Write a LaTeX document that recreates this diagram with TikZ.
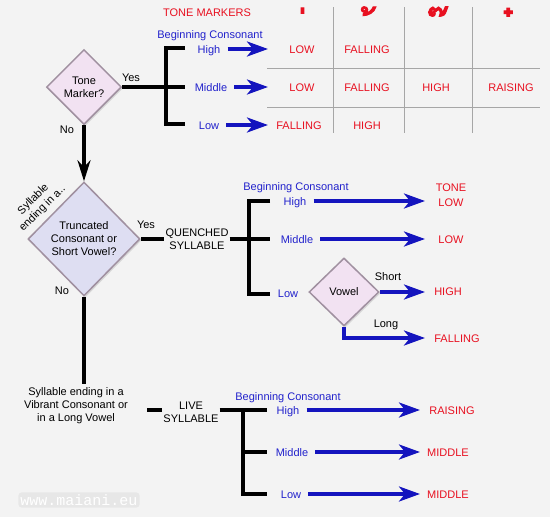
\documentclass[tikz,border=0pt]{standalone}
\usepackage{fontspec}
\setmainfont{Liberation Sans}
\setmonofont{Liberation Mono}
\newfontfamily\thaifont[Script=Thai, FakeBold=2.5]{Loma}
\usetikzlibrary{arrows.meta,shapes.geometric,shadows}

\definecolor{paper}{RGB}{243,243,243}
\definecolor{consblue}{RGB}{34,34,204}
\definecolor{arrowblue}{RGB}{20,20,190}
\definecolor{tonered}{RGB}{232,16,32}
\definecolor{pinkfill}{RGB}{242,226,242}
\definecolor{lilacfill}{RGB}{222,222,242}
\definecolor{rimgrey}{RGB}{160,144,160}

\tikzset{
  every node/.style={font=\fontsize{11}{13}\selectfont},
  cons/.style={text=consblue, text height=8pt, text depth=0pt, inner sep=2pt},
  tone/.style={text=tonered, text height=8pt, text depth=0pt},
  plainlbl/.style={text height=8pt, text depth=0pt, inner sep=1pt},
  markhead/.style={text=tonered, anchor=base, inner sep=0pt, font=\thaifont\fontsize{40}{40}\selectfont},
  question/.style={diamond, draw=rimgrey, line width=1.5pt, inner sep=0pt, align=center,
    drop shadow={shadow xshift=1.5pt, shadow yshift=-1.5pt, opacity=0.25}},
  bar/.style={line width=3.5pt},
  tablerule/.style={draw=gray!70, line width=0.8pt},
  tonearrow/.style={draw=arrowblue, line width=3.5pt, -{Stealth[length=21pt,width=15pt,inset=6pt]}},
  flow/.style={line width=3.5pt, -{Stealth[length=21pt,width=13pt,inset=7pt]}}
}

\begin{document}
\begin{tikzpicture}[x=1pt,y=-1pt]
\fill[paper] (0,0) rectangle (550,517);
\useasboundingbox (0,0) rectangle (550,517);

% tone marker table
\node[tone] (title) at (207,12) {TONE MARKERS};
\node[markhead] (mk1) at (302,49) {^^^^00a0^^^^0e48};
\node[markhead] (mk2) at (369,49) {^^^^00a0^^^^0e49};
\node[markhead] (mk3) at (440,49) {^^^^00a0^^^^0e4a};
\node[markhead] (mk4) at (510,49) {^^^^00a0^^^^0e4b};
\draw[tablerule] (333,7) -- (333,133);
\draw[tablerule] (404,7) -- (404,133);
\draw[tablerule] (472,7) -- (472,133);
\draw[tablerule] (267,68) -- (540,68);
\draw[tablerule] (267,107) -- (540,107);
\node[tone] (t11) at (302,49) {LOW};
\node[tone] (t12) at (367,49) {FALLING};
\node[tone] (t21) at (302,87) {LOW};
\node[tone] (t22) at (367,87) {FALLING};
\node[tone] (t23) at (436,87) {HIGH};
\node[tone] (t24) at (511,87) {RAISING};
\node[tone] (t31) at (299,125) {FALLING};
\node[tone] (t32) at (367,125) {HIGH};

\node[question, fill=pinkfill, minimum width=75pt, minimum height=75pt] (tm) at (84,87) {Tone\\Marker?};
\node[plainlbl] (yes1) at (131,77) {Yes};
\node[plainlbl] (no1) at (67,129) {No};
\node[cons] (bc1) at (210,34) {Beginning Consonant};
\node[cons] (hi1) at (209,49) {High};
\node[cons] (mid1) at (211,87) {Middle};
\node[cons] (low1) at (209,125) {Low};
\coordinate (b1t) at (166,48);
\coordinate (b1b) at (166,124);
\coordinate (s1h) at (185,48);
\coordinate (s1m) at (185,87);
\coordinate (s1l) at (185,124);
\draw[bar] (s1h) -- (b1t) -- (b1b) -- (s1l);
\draw[bar] (tm.east) -- (s1m);
\coordinate (e1h) at (268,49);
\coordinate (e1m) at (268,87);
\coordinate (e1l) at (268,125);
\draw[tonearrow, shorten <=5pt] (hi1) -- (e1h);
\draw[tonearrow, shorten <=5pt] (mid1) -- (e1m);
\draw[tonearrow, shorten <=5pt] (low1) -- (e1l);

% quenched syllable
\node[question, fill=lilacfill, minimum width=112pt, minimum height=114pt] (trunc) at (84,239) {Truncated\\Consonant or\\Short Vowel?};
\node[rotate=45, align=center, inner sep=0pt] (ending) at (38,204) {Syllable\\ending in a..};
\draw[flow] (tm) -- (trunc);
\node[plainlbl] (yes2) at (146,224) {Yes};
\node[plainlbl] (no2) at (62,290) {No};
\node[align=center, inner sep=1pt] (qs) at (197,239) {QUENCHED\\SYLLABLE};
\draw[bar] (trunc.east) -- (qs.west);
\coordinate (b2t) at (249,201);
\coordinate (b2b) at (249,294);
\coordinate (s2h) at (270,201);
\coordinate (s2m) at (270,239);
\coordinate (s2l) at (270,294);
\draw[bar] (s2h) -- (b2t) -- (b2b) -- (s2l);
\draw[bar] (qs.east) -- (s2m);
\node[cons] (bc2) at (296,186) {Beginning Consonant};
\node[cons] (hi2) at (295,201) {High};
\node[cons] (mid2) at (297,239) {Middle};
\node[cons] (low2) at (288,293) {Low};
\coordinate (e2h) at (425,201);
\coordinate (e2m) at (425,239);
\draw[tonearrow, shorten <=5pt] (hi2) -- (e2h);
\draw[tonearrow, shorten <=5pt] (mid2) -- (e2m);
\node[tone] (toneword) at (451,187) {TONE};
\node[tone] (r2h) at (451,202) {LOW};
\node[tone] (r2m) at (451,239) {LOW};
\node[question, fill=pinkfill, minimum width=70pt, minimum height=68pt] (vowel) at (344,292) {Vowel};
\coordinate (e2s) at (425,292);
\coordinate (e2l) at (425,338);
\draw[tonearrow] (vowel.east) -- (e2s);
\draw[tonearrow] (vowel.south) |- (e2l);
\node[plainlbl] (short) at (388,276) {Short};
\node[plainlbl] (long) at (386,323) {Long};
\node[tone] (r2s) at (448,291) {HIGH};
\node[tone] (r2l) at (457,338) {FALLING};

% live syllable
\node[align=center] (live) at (76,406) {Syllable ending in a\\Vibrant Consonant or\\in a Long Vowel};
\draw[bar] (trunc.south) -- (trunc.south |- live.north);
\node[align=center, inner sep=1pt] (ls) at (191,412) {LIVE\\SYLLABLE};
\coordinate (d0) at (147,410);
\draw[bar] (d0) -- (d0 -| ls.west);
\coordinate (b3t) at (243,410);
\coordinate (b3m) at (243,452);
\coordinate (b3b) at (243,494);
\coordinate (s3h) at (267,410);
\coordinate (s3m) at (267,452);
\coordinate (s3l) at (267,494);
\draw[bar] (ls.east |- b3t) -- (s3h);
\draw[bar] (b3t) -- (b3b) -- (s3l);
\draw[bar] (b3m) -- (s3m);
\node[cons] (bc3) at (288,396) {Beginning Consonant};
\node[cons] (hi3) at (288,410) {High};
\node[cons] (mid3) at (292,452) {Middle};
\node[cons] (low3) at (291,494) {Low};
\coordinate (e3h) at (420,410);
\coordinate (e3m) at (420,452);
\coordinate (e3l) at (420,494);
\draw[tonearrow, shorten <=5pt] (hi3) -- (e3h);
\draw[tonearrow, shorten <=5pt] (mid3) -- (e3m);
\draw[tonearrow, shorten <=5pt] (low3) -- (e3l);
\node[tone] (r3h) at (452,410) {RAISING};
\node[tone] (r3m) at (448,452) {MIDDLE};
\node[tone] (r3l) at (448,494) {MIDDLE};

\node[font=\ttfamily\fontsize{15}{15}\selectfont, text=white, fill=gray!25, fill opacity=0.6, text opacity=1, rounded corners=3pt, inner sep=2pt] (site) at (79,500) {www.maiani.eu};
\end{tikzpicture}
\end{document}
